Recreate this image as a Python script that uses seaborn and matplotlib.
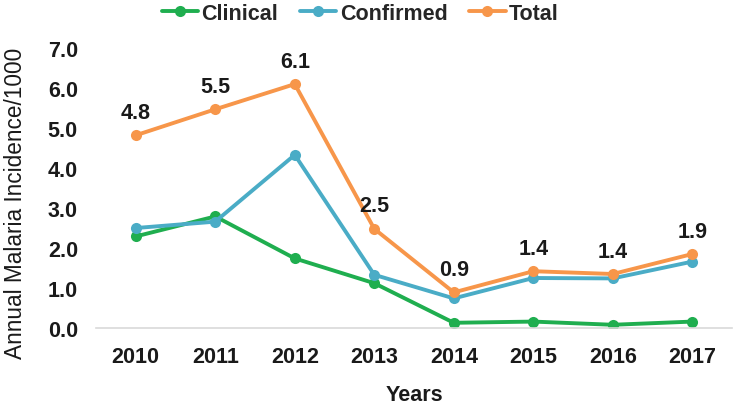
import matplotlib
matplotlib.use("Agg")
import matplotlib.pyplot as plt
import seaborn as sns
import pandas as pd

years = ["2010", "2011", "2012", "2013", "2014", "2015", "2016", "2017"]
clinical = [2.29, 2.79, 1.74, 1.12, 0.13, 0.16, 0.08, 0.16]
confirmed = [2.50, 2.66, 4.33, 1.33, 0.74, 1.25, 1.24, 1.66]
total = [4.82, 5.47, 6.10, 2.48, 0.89, 1.42, 1.35, 1.85]
total_labels = ["4.8", "5.5", "6.1", "2.5", "0.9", "1.4", "1.4", "1.9"]
series_names = ["Clinical", "Confirmed", "Total"]

df = pd.DataFrame({
    "Year": years * 3,
    "Value": clinical + confirmed + total,
    "Series": [series_names[0]] * 8 + [series_names[1]] * 8 + [series_names[2]] * 8,
})

sns.set_theme(style="white")
plt.rcParams["font.family"] = ["Liberation Sans", "DejaVu Sans"]

FS = 15.5
fig = plt.figure(figsize=(7.35, 4.06), dpi=100)
ax = fig.add_axes([0.1306, 0.1897, 0.8654, 0.6893])

palette = {"Clinical": "#1fae4f", "Confirmed": "#4aacc6", "Total": "#f7964a"}
sns.lineplot(data=df, x="Year", y="Value", hue="Series", hue_order=series_names,
             palette=palette, marker="o", markersize=8, markeredgewidth=0,
             linewidth=2.8, ax=ax, sort=False)

for i, (v, lab) in enumerate(zip(total, total_labels)):
    ax.annotate(lab, (i, v), xytext=(0, 23), textcoords="offset pixels",
                ha="center", va="center", fontsize=FS, fontweight="bold", color="#1a1a1a")

ax.set_xlim(-0.5, 7.5)
ax.set_ylim(0, 7)
ax.set_yticks([0, 1, 2, 3, 4, 5, 6, 7])
ax.set_yticklabels([f"{t:.1f}" for t in range(8)])
for s in ["top", "right", "left"]:
    ax.spines[s].set_visible(False)
ax.spines["bottom"].set_color("#d9d9d9")
ax.spines["bottom"].set_linewidth(1.2)
ax.tick_params(axis="both", length=0, labelsize=FS, colors="#1a1a1a")
ax.tick_params(axis="x", pad=13)
ax.tick_params(axis="y", pad=13)
for t in ax.get_xticklabels() + ax.get_yticklabels():
    t.set_fontweight("bold")

ax.set_xlabel("Years", fontsize=FS, fontweight="bold", color="#1a1a1a", labelpad=12)
ax.set_ylabel("Annual Malaria Incidence/1000", fontsize=16.3, color="#1a1a1a")
ax.yaxis.set_label_coords(-0.108, 0.45)

ax.get_legend().remove()
handles, labels = ax.get_legend_handles_labels()
fig.legend(handles, labels, loc="center", bbox_to_anchor=(0.49, 0.965), ncol=3,
           frameon=False, handlelength=1.7, handletextpad=0.15, columnspacing=1.0,
           prop={"weight": "bold", "size": FS})

fig.savefig("out.png", dpi=100)
